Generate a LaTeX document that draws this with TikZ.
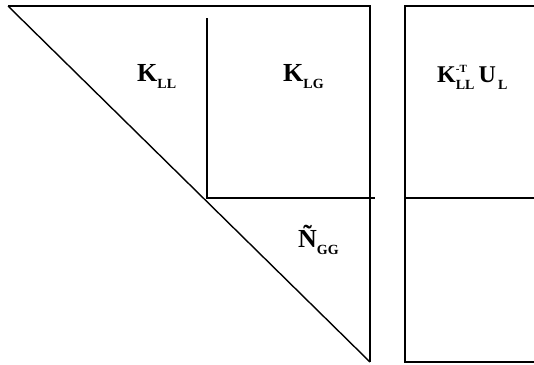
\documentclass[tikz,border=0pt]{standalone}
\usepackage{fontspec}
\setmainfont{Liberation Serif}
\usetikzlibrary{positioning}
% block label: bold letter with a lowered subscript
\newcommand{\Blk}[2]{#1\raisebox{-7pt}{\fontsize{14}{14}\selectfont #2}}
\newcommand{\BlkT}[2]{#1\makebox[0pt][l]{\raisebox{10pt}{\fontsize{11}{11}\selectfont -T}}\raisebox{-7pt}{\fontsize{14}{14}\selectfont #2}}

\begin{document}
\begin{tikzpicture}[
  x=1pt,
  y=-1pt,
  frame/.style={line width=1.4pt, draw=black},
  blklabel/.style={anchor=base west, inner sep=0pt, font=\fontsize{26}{26}\selectfont\bfseries}
]
\useasboundingbox (0,0) rectangle (534,364);

\coordinate (corner) at (8,6);
\coordinate (topright) at (370,6);
\coordinate (botright) at (370,362);
\coordinate (split) at (207,198);

% triangular factor
\draw[frame] (corner) -- (topright) -- (botright);
\draw[frame] (corner) -- (botright);
\draw[frame] (207,18) -- (split) -- (375,198);

% right-hand block column
\draw[frame] (534,6) -- (405,6) -- (405,362) -- (534,362);
\draw[frame] (405,198) -- (534,198);

\node[blklabel] (kll) at (137,81) {\Blk{K}{LL}};
\node[blklabel] (klg) at (283,81) {\Blk{K}{LG}};
\node[blklabel] (ngg) at (298,247) {\Blk{Ñ}{GG}};
\node[blklabel, font=\fontsize{24}{24}\selectfont\bfseries] (kul) at (437,82) {\BlkT{K}{LL}\,\Blk{U}{\,L}};
\end{tikzpicture}
\end{document}
